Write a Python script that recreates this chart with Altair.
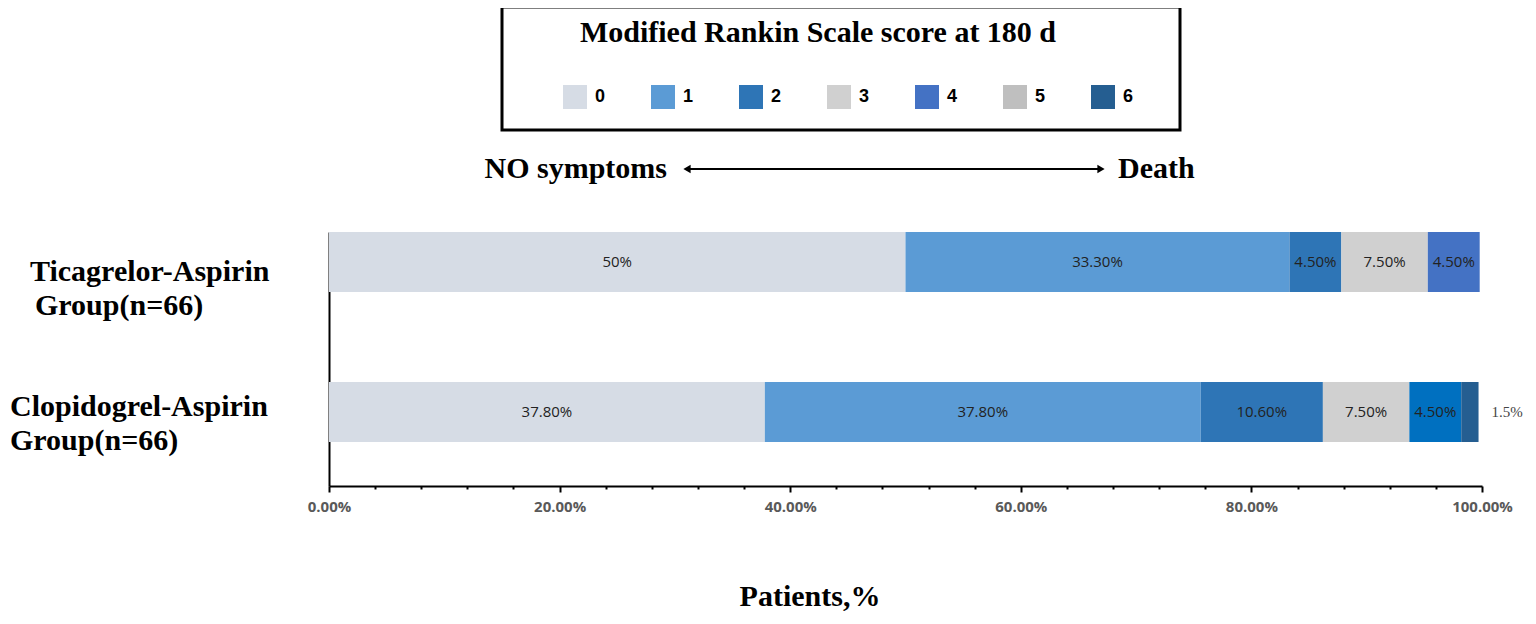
import altair as alt
import pandas as pd

# ---- data ----
groups = ["Ticagrelor-Aspirin Group(n=66)", "Clopidogrel-Aspirin Group(n=66)"]
score_levels = [0, 1, 2, 3, 4, 5, 6]
score_colors = ["#D6DCE5", "#5B9BD5", "#2E75B6", "#D0D0D0", "#4472C4", "#BFBFBF", "#255E91"]

tica_scores = [0, 1, 2, 3, 4]
tica_values = [50.0, 33.3, 4.5, 7.5, 4.5]
tica_labels = ["50%", "33.30%", "4.50%", "7.50%", "4.50%"]

clop_scores = [0, 1, 2, 3, 4, 6]
clop_values = [37.8, 37.8, 10.6, 7.5, 4.5, 1.5]
clop_labels = ["37.80%", "37.80%", "10.60%", "7.50%", "4.50%", "1.5%"]

x_ticks = [0, 4, 8, 12, 16, 20, 24, 28, 32, 36, 40, 44, 48, 52, 56, 60,
           64, 68, 72, 76, 80, 84, 88, 92, 96, 100]

rows = []
for s, v, l in zip(tica_scores, tica_values, tica_labels):
    rows.append({"group": groups[0], "score": s, "value": v, "label": l})
for s, v, l in zip(clop_scores, clop_values, clop_labels):
    rows.append({"group": groups[1], "score": s, "value": v, "label": l})
df = pd.DataFrame(rows)

W, H = 1153, 254
SERIF = "Liberation Serif"

x_scale = alt.Scale(domain=[0, 100], nice=False, zero=True)
y_scale = alt.Scale(domain=groups, paddingInner=0.6, paddingOuter=0.14667, align=0)

base = alt.Chart(df).transform_stack(
    stack="value", groupby=["group"], sort=[alt.SortField("score", order="ascending")],
    as_=["x0", "x1"]
).transform_calculate(mid="(datum.x0 + datum.x1) / 2")

bars = base.mark_bar(size=60).encode(
    x=alt.X("x0:Q", scale=x_scale, title=None,
            axis=alt.Axis(values=x_ticks, grid=False, domainColor="black", domainWidth=2,
                          tickColor="black", tickWidth=2,
                          tickSize={"condition": {"test": "datum.value % 20 === 0", "value": 6}, "value": 3},
                          labelExpr="datum.value % 20 === 0 ? format(datum.value, '.2f') + '%' : ''",
                          labelOverlap=False, labelFont="Open Sans", labelFontSize=15,
                          labelFontWeight="bold", labelColor="#595959", labelPadding=7,
                          labelFlush=False)),
    x2="x1:Q",
    y=alt.Y("group:N", scale=y_scale, title=None,
            axis=alt.Axis(labels=False, ticks=False, domainColor="black", domainWidth=2)),
    color=alt.condition(
        "datum.group == 'Clopidogrel-Aspirin Group(n=66)' && datum.score == 4",
        alt.value("#0070C0"),
        alt.Color("score:O", scale=alt.Scale(domain=score_levels, range=score_colors),
                  legend=alt.Legend(orient="none", legendX=234, legendY=-147, direction="horizontal",
                                    title=None, symbolType="square", symbolSize=576,
                                    symbolStrokeWidth=0, labelFont="Liberation Sans",
                                    labelFontWeight="bold", labelFontSize=18, labelColor="black",
                                    labelOffset=8, columnPadding=45, padding=0)),
    ),
)

inside = base.transform_filter("datum.value >= 3").mark_text(
    font="Open Sans", fontSize=15, color="#222222"
).encode(x=alt.X("mid:Q", scale=x_scale), y=alt.Y("group:N", scale=y_scale), text="label:N")

outside = base.transform_filter("datum.value < 3").mark_text(
    font=SERIF, fontSize=15, color="#444444", align="left", dx=13
).encode(x=alt.X("x1:Q", scale=x_scale), y=alt.Y("group:N", scale=y_scale), text="label:N")

# ---- annotations ----
ann = alt.Chart(pd.DataFrame({"a": [0]}))

box = ann.mark_rect(fill=None, stroke="black", strokeWidth=3).encode(
    x=alt.value(173), x2=alt.value(851), y=alt.value(-225), y2=alt.value(-102))

legend_title = ann.mark_text(font=SERIF, fontSize=30, fontWeight="bold", align="center",
                             baseline="alphabetic", color="black").encode(
    x=alt.value(489), y=alt.value(-190), text=alt.value("Modified Rankin Scale score at 180 d"))

arrow_line = ann.mark_rule(color="black", strokeWidth=2).encode(
    x=alt.value(358), x2=alt.value(772), y=alt.value(-63))
arrow_left = ann.mark_point(shape="triangle-left", filled=True, color="black", size=70, opacity=1).encode(
    x=alt.value(358), y=alt.value(-63))
arrow_right = ann.mark_point(shape="triangle-right", filled=True, color="black", size=70, opacity=1).encode(
    x=alt.value(772), y=alt.value(-63))

no_sym = ann.mark_text(font=SERIF, fontSize=30, fontWeight="bold", align="right",
                       baseline="alphabetic", color="black").encode(
    x=alt.value(338), y=alt.value(-54), text=alt.value("NO symptoms"))
death = ann.mark_text(font=SERIF, fontSize=30, fontWeight="bold", align="left",
                      baseline="alphabetic", color="black").encode(
    x=alt.value(789), y=alt.value(-54), text=alt.value("Death"))

def ylab(txt, x, y):
    return ann.mark_text(font=SERIF, fontSize=30, fontWeight="bold", align="left",
                         baseline="alphabetic", color="black").encode(
        x=alt.value(x), y=alt.value(y), text=alt.value(txt))

ylabels = [
    ylab("Ticagrelor-Aspirin", -299, 49),
    ylab("Group(n=66)", -294, 83),
    ylab("Clopidogrel-Aspirin", -319, 184),
    ylab("Group(n=66)", -319, 218),
]

xtitle = ann.mark_text(font=SERIF, fontSize=30, fontWeight="bold", align="center",
                       baseline="middle", color="black").encode(
    x=alt.value(481), y=alt.value(365), text=alt.value("Patients,%"))

chart = alt.layer(
    bars, inside, outside, box, legend_title, arrow_line, arrow_left, arrow_right,
    no_sym, death, *ylabels, xtitle
).properties(
    width=W, height=H,
    autosize=alt.AutoSizeParams(type="none"),
    padding={"left": 321, "top": 224, "right": 46, "bottom": 130},
    background="white",
).configure_view(stroke=None)

chart.save("out.html", embed_options={"renderer": "svg", "actions": False})
